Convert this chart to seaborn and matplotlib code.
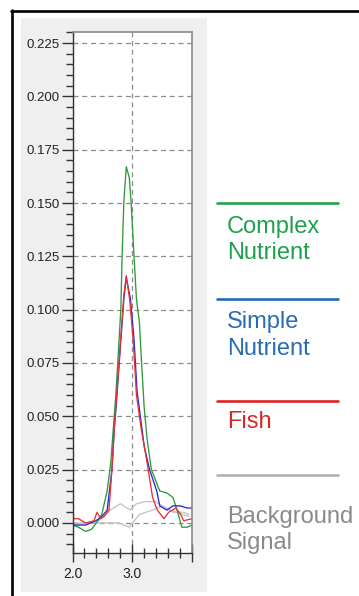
import numpy as np
import pandas as pd
import seaborn as sns
import matplotlib
matplotlib.use("Agg")
import matplotlib.pyplot as plt
from matplotlib.lines import Line2D
from matplotlib.patches import Rectangle
from matplotlib.ticker import MultipleLocator, FixedLocator, FixedFormatter, FormatStrFormatter

sns.set_theme(style="white")
plt.rcParams['font.family'] = ['Liberation Sans', 'DejaVu Sans']

# ---------------- data ----------------
complex_x = [2.00, 2.10, 2.22, 2.32, 2.41, 2.49, 2.58, 2.64, 2.73, 2.78, 2.81, 2.83, 2.86, 2.90,
             2.95, 2.98, 3.03, 3.07, 3.12, 3.15, 3.20, 3.25, 3.32, 3.46, 3.58, 3.68, 3.75, 3.83, 3.92, 4.00]
complex_y = [-0.001, -0.002, -0.004, -0.003, 0.0005, 0.004, 0.015, 0.028, 0.062, 0.086, 0.101, 0.125, 0.151, 0.167,
             0.162, 0.151, 0.125, 0.105, 0.094, 0.078, 0.054, 0.039, 0.025, 0.015, 0.014, 0.012, 0.006, -0.002, -0.002, -0.001]

simple_x = [2.00, 2.22, 2.39, 2.49, 2.58, 2.66, 2.70, 2.75, 2.81, 2.86, 2.90,
            2.97, 3.03, 3.08, 3.20, 3.29, 3.41, 3.46, 3.58, 3.68, 3.80, 3.92, 4.00]
simple_y = [-0.001, -0.001, 0.001, 0.003, 0.006, 0.025, 0.044, 0.062, 0.086, 0.105, 0.115,
            0.105, 0.086, 0.062, 0.036, 0.025, 0.015, 0.008, 0.006, 0.008, 0.008, 0.007, 0.007]

fish_x = [2.00, 2.10, 2.22, 2.36, 2.41, 2.47, 2.53, 2.61, 2.66, 2.70, 2.75, 2.81, 2.86, 2.90,
          2.96, 3.02, 3.07, 3.15, 3.25, 3.34, 3.42, 3.53, 3.61, 3.73, 3.81, 3.86, 4.00]
fish_y = [0.002, 0.002, 0.000, 0.001, 0.005, 0.002, 0.003, 0.006, 0.025, 0.045, 0.064, 0.088, 0.107, 0.116,
          0.104, 0.084, 0.060, 0.044, 0.028, 0.012, 0.006, 0.002, 0.005, 0.007, 0.004, 0.001, 0.002]

bg1_x = [2.00, 2.20, 2.40, 2.63, 2.80, 2.97, 3.07, 3.22, 3.39, 3.56, 3.73, 3.95]
bg1_y = [0.000, 0.000, 0.000, 0.006, 0.009, 0.006, 0.009, 0.010, 0.010, 0.007, 0.005, 0.003]
bg2_x = [2.00, 2.30, 2.56, 2.78, 2.95, 3.12, 3.34, 3.51, 3.68, 3.85, 3.95]
bg2_y = [-0.001, 0.000, 0.000, 0.000, -0.002, 0.004, 0.006, 0.008, 0.005, 0.005, 0.004]

legend_labels = [["Complex", "Nutrient"], ["Simple", "Nutrient"], ["Fish"], ["Background", "Signal"]]
y_ticks_major = [0.000, 0.025, 0.050, 0.075, 0.100, 0.125, 0.150, 0.175, 0.200, 0.225]
x_tick_values = [2.0, 3.0, 4.0]
x_tick_labels = ["2.0", "3.0", ""]

# ---------------- figure ----------------
W, H = 359, 596
fig = plt.figure(figsize=(W / 100, H / 100), dpi=100)
fig.patch.set_facecolor('white')


def fx(px):
    return px / W


def fy(py):
    return 1 - py / H


# grey panel and black frame lines
fig.patches.append(Rectangle((fx(21), fy(592)), (207 - 21) / W, (592 - 18) / H,
                             transform=fig.transFigure, facecolor='#efefef',
                             edgecolor='none', zorder=-5))
fig.add_artist(Line2D([fx(11.5), fx(11.5)], [fy(9.5), 0], color='black', lw=1.9,
                      transform=fig.transFigure))
fig.add_artist(Line2D([fx(10.5), 1], [fy(10.5), fy(10.5)], color='black', lw=1.9,
                      transform=fig.transFigure))

ax = fig.add_axes([fx(72.5), fy(553), (192 - 72.5) / W, (553 - 32) / H])
ax.set_zorder(2)
ax.set_facecolor('white')

lw = 0.95
sns.lineplot(x=bg1_x, y=bg1_y, ax=ax, color='#c4c4c4', lw=lw, estimator=None, sort=False)
sns.lineplot(x=bg2_x, y=bg2_y, ax=ax, color='#c4c4c4', lw=lw, estimator=None, sort=False)
sns.lineplot(x=complex_x, y=complex_y, ax=ax, color='#2e9a38', lw=lw, estimator=None, sort=False)
sns.lineplot(x=simple_x, y=simple_y, ax=ax, color='#2a2ad4', lw=lw, estimator=None, sort=False)
sns.lineplot(x=fish_x, y=fish_y, ax=ax, color='#e63238', lw=lw, estimator=None, sort=False)

ax.set_xlim(2.0, 4.0)
ax.set_ylim(-0.0141, 0.2302)

ax.yaxis.set_major_locator(FixedLocator(y_ticks_major))
ax.yaxis.set_major_formatter(FormatStrFormatter('%.3f'))
ax.yaxis.set_minor_locator(MultipleLocator(0.005))
ax.xaxis.set_major_locator(FixedLocator(x_tick_values))
ax.xaxis.set_major_formatter(FixedFormatter(x_tick_labels))
ax.xaxis.set_minor_locator(MultipleLocator(0.2))

ax.grid(True, which='major', linestyle=(0, (4, 3)), color='#8c8c8c', lw=0.9)
ax.set_axisbelow(True)

ax.tick_params(axis='y', which='major', direction='out', length=8, width=1,
               color='#333333', labelsize=9.5, pad=1.5, labelcolor='#222222', left=True)
ax.tick_params(axis='y', which='minor', direction='out', length=4.7, width=1,
               color='#333333', left=True)
ax.tick_params(axis='x', which='major', direction='inout', length=13.5, width=1,
               color='#333333', labelsize=10, pad=3, labelcolor='#222222', bottom=True)
ax.tick_params(axis='x', which='minor', direction='inout', length=7, width=1,
               color='#333333', bottom=True)

for side in ['left', 'bottom']:
    ax.spines[side].set_color('#333333')
    ax.spines[side].set_linewidth(1)
for side in ['top', 'right']:
    ax.spines[side].set_color('#8a8a8a')
    ax.spines[side].set_linewidth(1.2)
ax.set_xlabel('')
ax.set_ylabel('')

# ---------------- legend (drawn to the right) ----------------
leg_line_colors = ['#1fa24a', '#1f6cb5', '#dd2424', '#b0b0b0']
leg_text_colors = ['#1ea04c', '#2a6cb4', '#d42a2a', '#8a8a8a']
leg_line_y = [203, 299, 401, 475]
leg_text_baselines = [[233, 259], [328, 355], [428], [523, 549]]
for lab, lc, tc, ly, bls in zip(legend_labels, leg_line_colors, leg_text_colors,
                                leg_line_y, leg_text_baselines):
    fig.add_artist(Line2D([fx(217), fx(338)], [fy(ly), fy(ly)], color=lc, lw=1.9,
                          transform=fig.transFigure))
    for line, bl in zip(lab, bls):
        fig.text(fx(227), fy(bl), line, color=tc, fontsize=17, ha='left',
                 va='baseline')

fig.savefig('out.png', dpi=100)
